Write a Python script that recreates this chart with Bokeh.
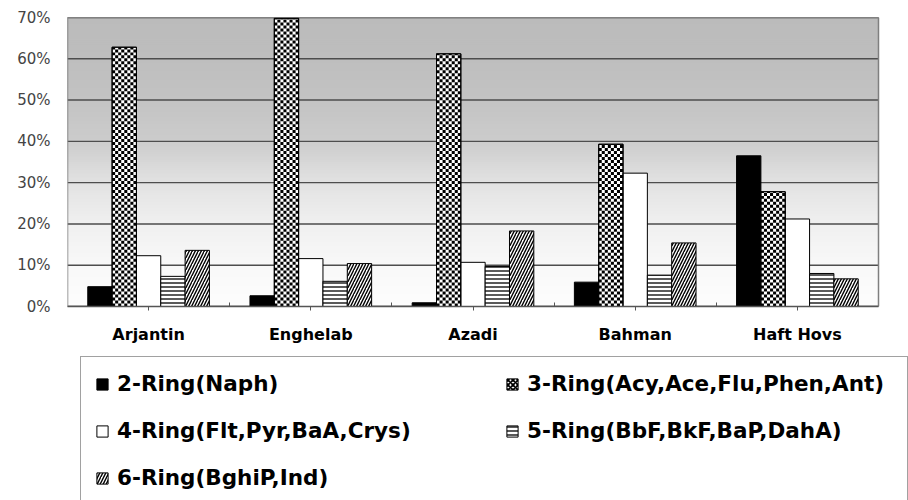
import numpy as np
from bokeh.plotting import figure
from bokeh.layouts import column
from bokeh.models import Legend, LegendItem, FixedTicker, Range1d
from bokeh.embed import file_html
from bokeh.resources import INLINE

# PAH ring-class share (%) per sampling site
sites = ["Arjantin", "Enghelab", "Azadi", "Bahman", "Haft Hovs"]
ring_labels = [
    "2-Ring(Naph)",
    "3-Ring(Acy,Ace,Flu,Phen,Ant)",
    "4-Ring(Flt,Pyr,BaA,Crys)",
    "5-Ring(BbF,BkF,BaP,DahA)",
    "6-Ring(BghiP,Ind)",
]
ring2 = [4.8, 2.6, 0.9, 5.9, 36.5]
ring3 = [62.8, 69.8, 61.2, 39.3, 27.8]
ring4 = [12.3, 11.6, 10.7, 32.3, 21.2]
ring5 = [7.3, 6.1, 9.7, 7.6, 8.0]
ring6 = [13.6, 10.4, 18.3, 15.4, 6.7]
y_ticks = [0, 10, 20, 30, 40, 50, 60, 70]
y_tick_labels = ["0%", "10%", "20%", "30%", "40%", "50%", "60%", "70%"]

series = [ring2, ring3, ring4, ring5, ring6]
n_sites = len(sites)
bar_w = 0.15
offsets = [-0.3, -0.15, 0.0, 0.15, 0.3]

# page geometry: the bar area is 811 x 290 px; the frame runs on to the right page edge
PAGE_W = 908
PAGE_H = 500
CHART_H = 346
LEFT = 67
BAR_AREA_W = 811
FRAME_H = 290
Y_MAX = 70
X_END = n_sites * (PAGE_W - LEFT) / BAR_AREA_W

p = figure(width=PAGE_W, height=CHART_H, output_backend="svg", toolbar_location=None,
           x_range=Range1d(0, X_END), y_range=Range1d(0, Y_MAX),
           min_border_left=LEFT, min_border_right=0, min_border_top=17,
           min_border_bottom=CHART_H - 17 - FRAME_H)
p.background_fill_color = "white"
p.border_fill_color = "white"
p.outline_line_color = None
p.xgrid.visible = False
p.ygrid.visible = False

# vertical grey-to-white wash behind the bars (overlapping bands, painted bottom-up)
stops_v = [0, 10, 20, 30, 40, 50, 60, 70]
stops_g = [253, 248, 240, 226, 204, 195, 190, 187]
edges = np.arange(0, Y_MAX, 0.5)
greys = np.interp(edges + 0.25, stops_v, stops_g).round().astype(int)
wash = p.quad(left=0, right=n_sites, bottom=edges, top=Y_MAX,
              fill_color=["#%02x%02x%02x" % (g, g, g) for g in greys],
              line_color=None)
wash.level = "image"

# horizontal gridlines and the plot-area border
grid = p.segment(x0=0, x1=n_sites, y0=y_ticks, y1=y_ticks, line_color="#4d4d4d",
                 line_width=1.4)
grid.level = "underlay"
p.quad(left=0, right=n_sites, bottom=0, top=Y_MAX, fill_color=None,
       line_color="#7f7f7f", line_width=1.5)

styles = [
    dict(fill_color="black"),
    dict(fill_color="white"),
    dict(fill_color="white"),
    dict(fill_color="white", hatch_pattern="horizontal_line", hatch_color="black",
         hatch_scale=4, hatch_weight=1.3),
    dict(fill_color="white", hatch_pattern="right_diagonal_line", hatch_color="black",
         hatch_scale=6, hatch_weight=1.4),
]
key_styles = list(styles)
key_styles[1] = dict(fill_color="white", hatch_pattern="diagonal_cross",
                     hatch_color="black", hatch_scale=5, hatch_weight=1.8)

bar_x = [[i + 0.5 + off for i in range(n_sites)] for off in offsets]
for xs, vals, st in zip(bar_x, series, styles):
    p.vbar(x=xs, top=vals, width=bar_w, bottom=0, line_color="black", line_width=1, **st)

# checkerboard fill for the 3-ring bars, built cell by cell inside each bar
cell_px = 3.0
ch = cell_px * Y_MAX / FRAME_H
n_cols = 8
cw = bar_w / n_cols
cl, cr, cb, ct = [], [], [], []
for xc, v in zip(bar_x[1], ring3):
    x0 = xc - bar_w / 2
    n_rows = int(np.ceil(v / ch))
    for k in range(n_rows):
        for j in range(n_cols):
            if (j + k) % 2 == 0:
                cl.append(x0 + j * cw)
                cr.append(x0 + (j + 1) * cw)
                cb.append(k * ch)
                ct.append(min((k + 1) * ch, v))
p.quad(left=cl, right=cr, bottom=cb, top=ct, fill_color="black", line_color=None)
p.vbar(x=bar_x[1], top=ring3, width=bar_w, bottom=0, fill_color=None,
       line_color="black", line_width=1)

xa = p.xaxis[0]
xa.bounds = (0, n_sites)
xa.ticker = FixedTicker(ticks=[i + 0.5 for i in range(n_sites)],
                        minor_ticks=list(range(1, n_sites)))
xa.major_label_overrides = {i + 0.5: s for i, s in enumerate(sites)}
xa.axis_line_color = "#555555"
xa.axis_line_width = 1.5
xa.major_tick_out = 4
xa.major_tick_in = 0
xa.minor_tick_in = 4
xa.minor_tick_out = 0
xa.major_tick_line_color = "#555555"
xa.minor_tick_line_color = "#555555"
xa.major_label_standoff = 14
xa.major_label_text_font = "DejaVu Sans"
xa.major_label_text_font_style = "bold"
xa.major_label_text_font_size = "16px"
xa.major_label_text_color = "black"

ya = p.yaxis[0]
ya.ticker = FixedTicker(ticks=y_ticks)
ya.major_label_overrides = {v: s for v, s in zip(y_ticks, y_tick_labels)}
ya.axis_line_color = None
ya.major_tick_line_color = None
ya.minor_tick_line_color = None
ya.major_tick_out = 0
ya.major_tick_in = 0
ya.major_label_standoff = 17
ya.major_label_text_font = "DejaVu Sans"
ya.major_label_text_font_size = "15px"
ya.major_label_text_color = "#444444"

# key panel: the same bars, kept outside its visible window, feed the legend swatches
lg = figure(width=PAGE_W, height=PAGE_H - CHART_H, output_backend="svg",
            toolbar_location=None,
            x_range=Range1d(-2 * X_END, -X_END), y_range=Range1d(-2 * Y_MAX, -Y_MAX),
            x_axis_location=None, y_axis_location=None,
            min_border_left=LEFT, min_border_right=0, min_border_top=0,
            min_border_bottom=0)
lg.outline_line_color = None
lg.background_fill_color = "white"
lg.border_fill_color = "white"
lg.grid.visible = False

items = []
for xs, vals, st, lbl in zip(bar_x, series, key_styles, ring_labels):
    r = lg.vbar(x=xs, top=vals, width=bar_w, bottom=0, line_color="black",
                line_width=1, **st)
    items.append(LegendItem(label=lbl, renderers=[r]))

# box runs past the bottom page edge, so its lower border is cut off
legend = Legend(items=items, location=(13, -5), orientation="horizontal", ncols=2,
                glyph_width=14, glyph_height=14, label_standoff=8,
                label_text_font="DejaVu Sans", label_text_font_style="bold",
                label_text_font_size="21.5px", label_text_color="black",
                label_width=366, padding=14, spacing=22, margin=0,
                border_line_color="#444444", border_line_width=1.5,
                background_fill_color="white", background_fill_alpha=1.0)
lg.add_layout(legend, "center")

page = column(p, lg, spacing=0)
open("out.html", "w").write(file_html(page, INLINE))
